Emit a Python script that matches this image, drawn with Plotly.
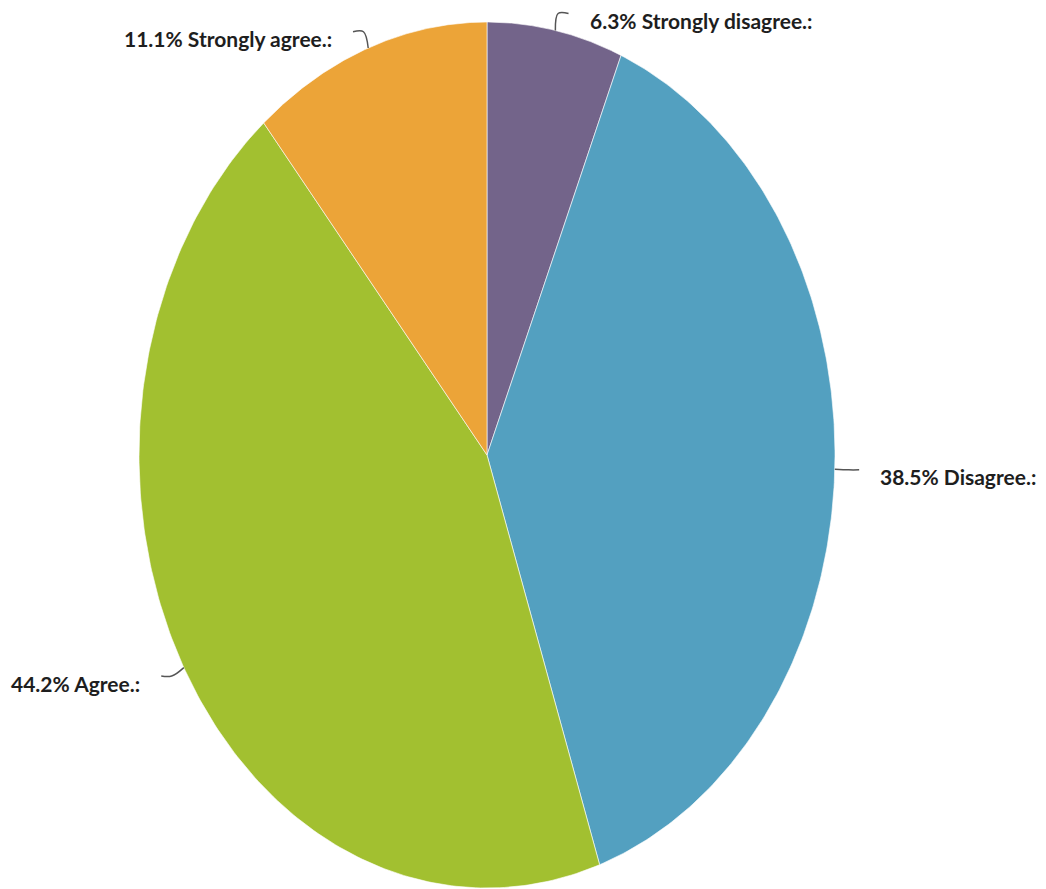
import numpy as np
import plotly.graph_objects as go

# Survey responses, clockwise from 12 o'clock
labels = ["Strongly disagree.", "Disagree.", "Agree.", "Strongly agree."]
percents = [6.3, 38.5, 44.2, 11.1]
colors = ["#73648a", "#53a0c0", "#a2c030", "#eca438"]

W, H = 1046, 889
cx_px, cy_px = 487, 455   # pie centre in pixels
rx_px, ry_px = 348, 433   # horizontal / vertical radii in pixels

fig = go.Figure()

total = sum(percents)
fracs = np.cumsum([0] + percents) / total

def edge(theta, r=1.0):
    # theta measured clockwise from 12 o'clock, unit ellipse in data space
    return r * np.sin(theta), r * np.cos(theta)

for i, (lab, p, col) in enumerate(zip(labels, percents, colors)):
    a0, a1 = 2 * np.pi * fracs[i], 2 * np.pi * fracs[i + 1]
    t = np.linspace(a0, a1, 200)
    xs = np.concatenate([[0], np.sin(t), [0]])
    ys = np.concatenate([[0], np.cos(t), [0]])
    fig.add_trace(go.Scatter(
        x=xs, y=ys, mode="lines", fill="toself", fillcolor=col,
        line=dict(color="rgba(255,255,255,0.6)", width=1),
        hoverinfo="text", text=f"{p}% {lab}:", showlegend=False,
    ))

    # leader line and label
    mid = (a0 + a1) / 2
    px, py = edge(mid, 1.0)
    ex, ey = edge(mid, 1.04)
    side = 1 if np.sin(mid) >= 0 else -1
    dx = 0.03 * side
    lx, ly = ex + dx, ey
    fig.add_trace(go.Scatter(
        x=[px, ex, lx], y=[py, ey, ly], mode="lines",
        line=dict(color="#555555", width=1.5, shape="spline"),
        hoverinfo="skip", showlegend=False,
    ))
    fig.add_annotation(
        x=lx + 0.055 * side, y=ly, xref="x", yref="y",
        text=f"<b>{p}% {lab}:</b>", showarrow=False,
        xanchor="left" if side > 0 else "right", yanchor="middle",
        yshift=-7,
        font=dict(family="Lato", size=21, color="#1e1e1e"),
    )

fig.update_xaxes(range=[-cx_px / rx_px, (W - cx_px) / rx_px], visible=False, fixedrange=True)
fig.update_yaxes(range=[(cy_px - H) / ry_px, cy_px / ry_px], visible=False, fixedrange=True)
fig.update_layout(
    width=W, height=H, margin=dict(l=0, r=0, t=0, b=0),
    paper_bgcolor="white", plot_bgcolor="white",
)

fig.write_html("out.html")
